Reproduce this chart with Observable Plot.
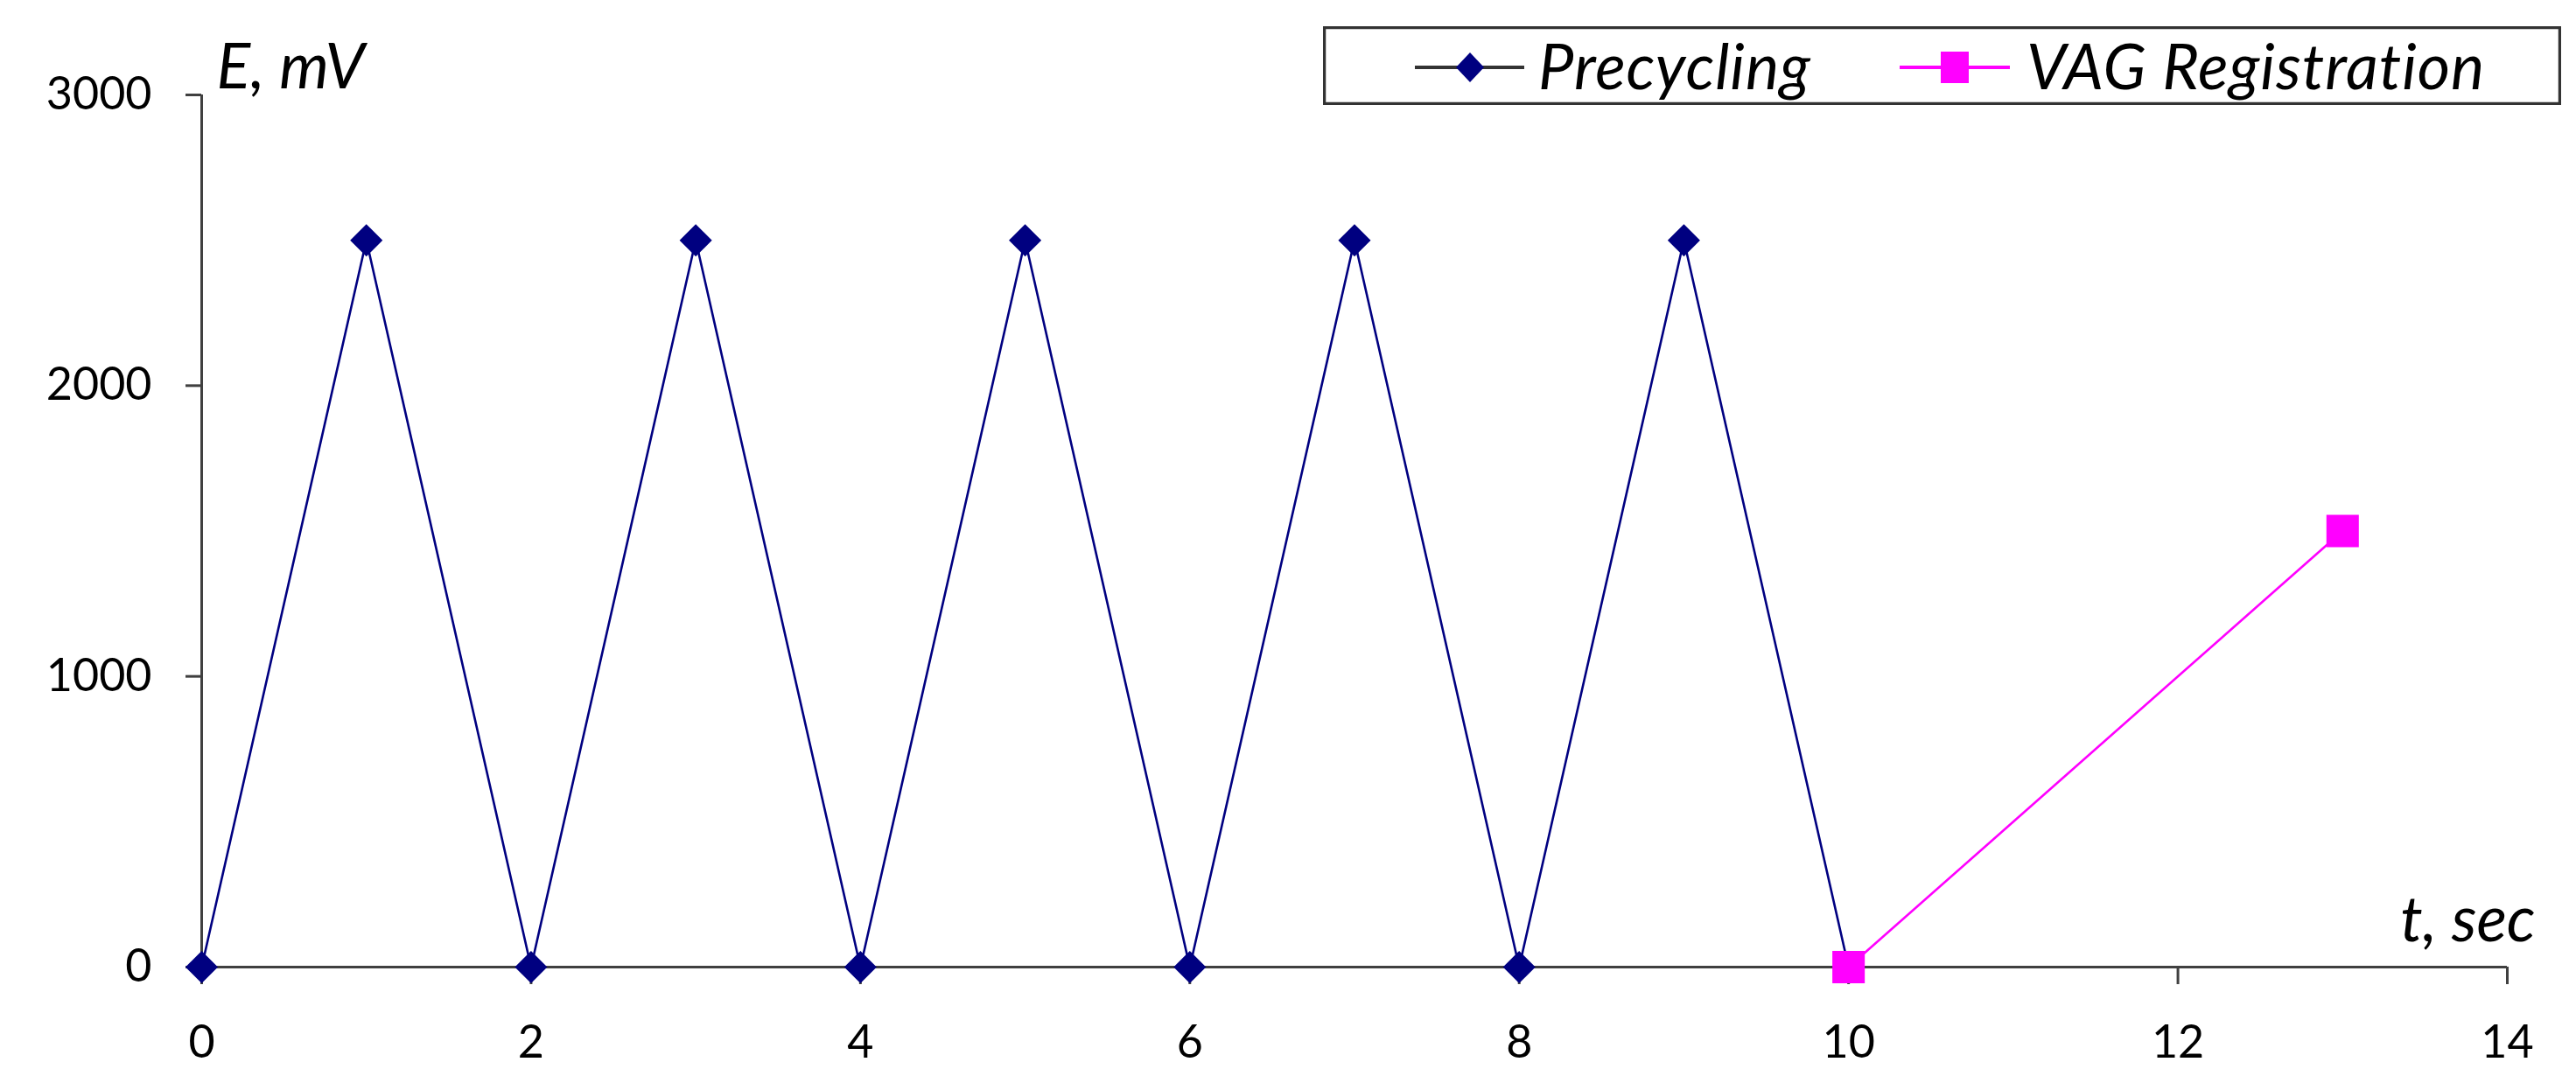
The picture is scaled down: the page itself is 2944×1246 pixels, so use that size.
<!DOCTYPE html>
<html><head><meta charset="utf-8">
<script src="https://cdn.jsdelivr.net/npm/d3@7"></script>
<script src="https://cdn.jsdelivr.net/npm/@observablehq/plot@0.6"></script>
<style>
html,body{margin:0;padding:0;background:#fff;}
#wrap{position:relative;width:2944px;height:1246px;overflow:hidden;}
#wrap svg{display:block;}
#legend{position:absolute;left:1512px;top:30px;}
</style></head><body><div id="wrap"></div>
<script>
// ---- data ----
const precyclingT = [0, 1, 2, 3, 4, 5, 6, 7, 8, 9, 10];
const precyclingE = [0, 2500, 0, 2500, 0, 2500, 0, 2500, 0, 2500, 0];
const vagT = [10, 13];
const vagE = [0, 1500];
const xTicks = [0, 2, 4, 6, 8, 10, 12, 14];
const yTicks = [0, 1000, 2000, 3000];
const seriesNames = ["Precycling", "VAG Registration"];
const seriesColors = ["#000080", "#FF00FF"];
const xTitle = "t, sec";
const yTitle = "E, mV";

const pre = precyclingT.map((t, i) => ({t, E: precyclingE[i]}));
const vag = vagT.map((t, i) => ({t, E: vagE[i]}));

const axisColor = "#404040";
const chart = Plot.plot({
  width: 2944, height: 1246,
  marginLeft: 230, marginRight: 79, marginTop: 108, marginBottom: 141,
  style: {fontFamily: "Lato, sans-serif", fontSize: "51px", color: "#000", background: "#fff"},
  x: {domain: [0, 14], ticks: xTicks, label: null},
  y: {domain: [0, 3000], ticks: yTicks, label: null},
  marks: [
    Plot.axisX({ticks: xTicks, tickSize: 20, tickPadding: 47, stroke: axisColor, strokeWidth: 3, fill: "#000", label: null, tickFormat: d => String(d), fontSize: 52}),
    Plot.axisY({ticks: yTicks, tickSize: 18, tickPadding: 39, stroke: axisColor, strokeWidth: 3, fill: "#000", label: null, tickFormat: d => String(d), fontSize: 52}),
    Plot.ruleY([0], {stroke: axisColor, strokeWidth: 3}),
    Plot.ruleX([0], {stroke: axisColor, strokeWidth: 3}),
    Plot.line(pre, {x: "t", y: "E", stroke: seriesColors[0], strokeWidth: 2.6}),
    Plot.dot(pre, {x: "t", y: "E", symbol: "diamond2", r: 16.7, fill: seriesColors[0], stroke: null}),
    Plot.line(vag, {x: "t", y: "E", stroke: seriesColors[1], strokeWidth: 2.6}),
    Plot.dot(vag, {x: "t", y: "E", symbol: "square", r: 20.9, fill: seriesColors[1], stroke: null}),
    Plot.text([yTitle], {frameAnchor: "top-left", textAnchor: "start", lineAnchor: "bottom", dx: 17, dy: -8, fontStyle: "italic", fontSize: 72, fill: "#000"}),
    Plot.text([xTitle], {frameAnchor: "bottom-right", textAnchor: "end", lineAnchor: "bottom", dx: 32, dy: -30, fontStyle: "italic", fontSize: 72, fill: "#000"})
  ]
});
const wrap = document.getElementById("wrap");
wrap.appendChild(chart);

// ---- legend ----
const lw = 1415, lh = 90;
const lg = d3.create("svg").attr("id", "legend").attr("width", lw).attr("height", lh)
  .style("font-family", "Lato, sans-serif");
lg.append("rect").attr("x", 1.5).attr("y", 1.5).attr("width", lw - 3).attr("height", lh - 3)
  .attr("fill", "#fff").attr("stroke", "#333").attr("stroke-width", 3.5);
const items = [
  {x0: 105, x1: 230, mx: 168, tx: 246, line: "#333", shape: "diamond"},
  {x0: 659, x1: 785, mx: 722, tx: 804, line: seriesColors[1], shape: "square"}
];
items.forEach((it, i) => {
  const g = lg.append("g");
  g.append("line").attr("x1", it.x0).attr("x2", it.x1).attr("y1", 47).attr("y2", 47)
    .attr("stroke", it.line).attr("stroke-width", 4);
  if (it.shape === "diamond") {
    g.append("path").attr("d", `M${it.mx},${47 - 17}L${it.mx + 16},47L${it.mx},${47 + 17}L${it.mx - 16},47Z`)
      .attr("fill", seriesColors[i]);
  } else {
    g.append("rect").attr("x", it.mx - 16).attr("y", 47 - 18).attr("width", 32).attr("height", 36)
      .attr("fill", seriesColors[i]);
  }
  g.append("text").attr("x", it.tx).attr("y", 72).attr("font-size", 72).attr("font-style", "italic")
    .attr("letter-spacing", 1).attr("fill", "#000").text(seriesNames[i]);
});
wrap.appendChild(lg.node());
</script></body></html>
